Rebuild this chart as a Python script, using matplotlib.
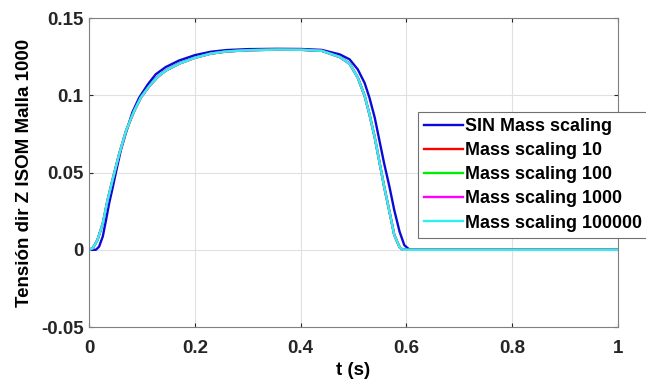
import matplotlib
matplotlib.use("Agg")
import matplotlib.pyplot as plt

# Time points (s) and curves
t_sin = [0, 0.013, 0.019, 0.026, 0.032, 0.038, 0.045, 0.051, 0.060, 0.070, 0.082, 0.095,
         0.111, 0.126, 0.145, 0.17, 0.2, 0.23, 0.26, 0.3, 0.355, 0.4, 0.44, 0.474, 0.4925,
         0.508, 0.521, 0.530, 0.540, 0.549, 0.558, 0.568, 0.577, 0.587, 0.596, 0.606,
         0.7, 0.8, 0.9, 1.0]
sin_ms = [0, 0, 0.002, 0.0086, 0.019, 0.030, 0.0407, 0.0504, 0.0643, 0.076, 0.089, 0.0986,
          0.107, 0.1136, 0.1183, 0.1225, 0.126, 0.1282, 0.1293, 0.1299, 0.1301, 0.1300, 0.1294,
          0.1265, 0.1233, 0.1168, 0.108, 0.0986, 0.0857, 0.0707, 0.0557, 0.0407, 0.0257,
          0.0118, 0.003, 0, 0, 0, 0, 0]

t_ms = [0, 0.007, 0.016, 0.026, 0.035, 0.045, 0.057, 0.070, 0.0855, 0.098, 0.114, 0.13,
        0.145, 0.17, 0.2, 0.23, 0.26, 0.3, 0.355, 0.4, 0.44, 0.474, 0.4925, 0.508, 0.521,
        0.530, 0.540, 0.549, 0.558, 0.568, 0.577, 0.587, 0.593, 0.7, 0.8, 0.9, 1.0]
ms_10 = [0, 0.001, 0.0064, 0.017, 0.032, 0.046, 0.062, 0.077, 0.090, 0.0986, 0.106, 0.112,
         0.116, 0.1205, 0.1243, 0.1270, 0.1284, 0.1292, 0.1296, 0.1295, 0.1288, 0.1248,
         0.1205, 0.1115, 0.0997, 0.0879, 0.0729, 0.0568, 0.0407, 0.0246, 0.0096, 0.0017,
         0, 0, 0, 0, 0]
ms_100 = ms_10
ms_1000 = ms_10
ms_100000 = ms_10

labels = ["SIN Mass scaling", "Mass scaling 10", "Mass scaling 100",
          "Mass scaling 1000", "Mass scaling 100000"]
colors = ["#0a0ad8", "#ff0000", "#00ee00", "#ff00ff", "#33f0f0"]

plt.rcParams["font.family"] = ["Liberation Sans", "DejaVu Sans"]
plt.rcParams["font.weight"] = "bold"

fig = plt.figure(figsize=(6.46, 3.85), dpi=100)
ax = fig.add_axes([0.1378, 0.1506, 0.8189, 0.8024])

series = [(t_sin, sin_ms), (t_ms, ms_10), (t_ms, ms_100), (t_ms, ms_1000), (t_ms, ms_100000)]
for (tt, yy), c, lab in zip(series, colors, labels):
    ax.plot(tt, yy, color=c, linewidth=1.7, label=lab, solid_joinstyle="round")

ax.set_xlim(0, 1)
ax.set_ylim(-0.05, 0.15)
ax.set_xticks([0, 0.2, 0.4, 0.6, 0.8, 1])
ax.set_xticklabels(["0", "0.2", "0.4", "0.6", "0.8", "1"])
ax.set_yticks([-0.05, 0, 0.05, 0.1, 0.15])
ax.set_yticklabels(["-0.05", "0", "0.05", "0.1", "0.15"])
ax.grid(True, color="#e0e0e0", linewidth=0.8)
ax.set_axisbelow(True)
ax.tick_params(direction="in", top=True, right=True, labelsize=13.5,
               colors="#262626", length=3, pad=4)
ax.tick_params(axis="x", pad=9)
for s in ax.spines.values():
    s.set_color("#808080")

ax.set_xlabel("t (s)", fontsize=13.5, fontweight="bold", labelpad=4)
ax.set_ylabel("Tensión dir Z ISOM Malla 1000", fontsize=13.5, fontweight="bold", labelpad=6)

leg = ax.legend(loc="upper left", bbox_to_anchor=(0.647, 0.709),
                bbox_transform=fig.transFigure, borderaxespad=0,
                fontsize=12.9, handlelength=2.2, handletextpad=0.1,
                labelspacing=0.4, borderpad=0.33, fancybox=False, framealpha=1)
leg.get_frame().set_edgecolor("#707070")
leg.get_frame().set_linewidth(0.8)

fig.savefig("out.png", dpi=100)
